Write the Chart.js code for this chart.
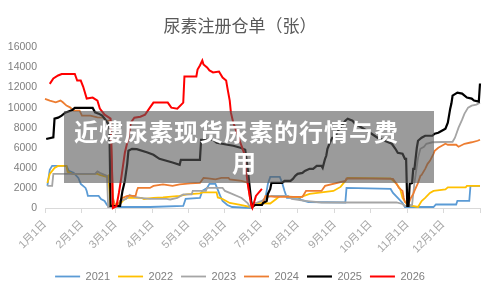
<!DOCTYPE html>
<html>
<head>
<meta charset="utf-8">
<script src="https://cdn.jsdelivr.net/npm/chart.js"></script>
<style>
    html, body { margin: 0; padding: 0; background: #fff; }
    #wrap { position: relative; width: 500px; height: 295px; }
    #banner { position: absolute; left: 64px; top: 111px; width: 370px; height: 72px; background: rgba(88, 88, 88, 0.6); }
    .bt { position: absolute; color: #fff; font-family: 'Noto Sans CJK SC'; font-weight: 700; font-size: 24px; line-height: 31px; letter-spacing: 1px; white-space: nowrap; }
</style>
</head>
<body>
<div id="wrap">
    <canvas id="chart" width="500" height="295"></canvas>
    <div id="banner"></div>
    <div class="bt" style="left:74px; top:115px;">近熡尿素现货尿素的行情与费</div>
    <div class="bt" style="left:232px; top:146px;">用</div>
</div>
<script>
// day of year (0 = 1月1日) and warehouse receipts per year
const years = ['2021', '2022', '2023', '2024', '2025', '2026'];
const monthDays = [0, 31, 59, 90, 120, 151, 181, 212, 243, 273, 304, 334, 365];
const monthLabels = ['1月1日', '2月1日', '3月1日', '4月1日', '5月1日', '6月1日', '7月1日', '8月1日', '9月1日', '10月1日', '11月1日', '12月1日', ''];

const days2021 = [2, 4, 6, 18, 20, 24, 28, 30, 34, 35, 36, 45, 47, 50, 52, 54, 88, 116, 118, 130, 132, 136, 138, 143, 145, 147, 149, 153, 157, 172, 176, 182, 185, 187, 189, 197, 199, 201, 203, 213, 215, 221, 252, 253, 290, 292, 296, 300, 302, 326, 328, 345, 346, 356, 357, 365];
const vals2021 = [2200, 3800, 4200, 4200, 3700, 3500, 3000, 2400, 2000, 1700, 1200, 1200, 900, 700, 300, 100, 100, 200, 900, 1000, 1700, 2000, 2400, 2400, 1800, 1200, 700, 300, 100, 0, 300, 300, 1000, 2400, 3100, 3100, 2500, 1700, 1000, 1000, 800, 600, 550, 2000, 1900, 1500, 1000, 500, 100, 100, 350, 350, 700, 700, 2200, 2200];

const days2022 = [2, 4, 8, 11, 18, 19, 23, 44, 46, 52, 53, 55, 63, 66, 69, 81, 83, 91, 99, 113, 119, 130, 132, 144, 145, 149, 155, 164, 172, 177, 189, 194, 197, 214, 222, 242, 248, 252, 254, 290, 295, 298, 300, 304, 313, 316, 319, 323, 326, 336, 338, 353, 354, 365];
const vals2022 = [2500, 3400, 4000, 4200, 4200, 3600, 3400, 3400, 3300, 3100, 3200, 300, 400, 800, 1000, 1000, 900, 1000, 1050, 1200, 1350, 1450, 1550, 1550, 1050, 900, 500, 300, 100, 500, 450, 900, 1200, 1050, 1400, 1700, 2100, 2700, 3000, 2950, 2400, 1900, 1000, 300, 100, 700, 1000, 1500, 1700, 1850, 2050, 2050, 2200, 2200];

const days2023 = [2, 6, 7, 42, 44, 46, 50, 52, 53, 61, 63, 68, 71, 75, 80, 88, 102, 105, 111, 116, 123, 124, 135, 136, 149, 151, 155, 165, 170, 172, 177, 182, 185, 190, 204, 207, 218, 232, 295, 300, 302, 308, 310, 313, 315, 318, 320, 325, 342, 344, 347, 350, 352, 355, 358, 362, 365];
const vals2023 = [2200, 2200, 3400, 3400, 3650, 3500, 3300, 3200, 100, 100, 700, 900, 1300, 1100, 1000, 900, 900, 850, 1000, 1350, 1350, 1700, 1700, 2000, 2000, 1700, 1500, 1000, 500, 100, 500, 700, 1000, 1200, 1200, 900, 700, 550, 550, 400, 200, 300, 2500, 5000, 5900, 6100, 6400, 6550, 6600, 7000, 8000, 8800, 9400, 10000, 10200, 10300, 10500];

const days2024 = [0, 4, 9, 13, 15, 18, 21, 24, 29, 31, 38, 44, 49, 51, 55, 57, 59, 61, 63, 65, 69, 76, 77, 78, 88, 91, 99, 107, 113, 122, 130, 133, 137, 143, 148, 154, 155, 165, 170, 172, 174, 177, 182, 185, 193, 216, 219, 232, 235, 252, 253, 292, 295, 297, 300, 301, 302, 305, 307, 309, 310, 313, 315, 316, 319, 321, 323, 326, 327, 330, 333, 336, 338, 345, 347, 352, 358, 363, 365];
const vals2024 = [10870, 10700, 10530, 10700, 10530, 10200, 10030, 9700, 9700, 9200, 9200, 9030, 9000, 8700, 8700, 1000, 200, 300, 700, 1000, 1200, 1200, 1700, 2000, 2000, 2200, 2350, 2200, 2350, 2450, 2500, 3000, 2950, 2850, 3000, 3000, 2850, 2700, 2530, 1000, 100, 300, 300, 1200, 1100, 1100, 1700, 1700, 2200, 2700, 2950, 2900, 2400, 2000, 1700, 1000, 600, 400, 1000, 1400, 1700, 2500, 3200, 3300, 3900, 4400, 4700, 5400, 5700, 6000, 6200, 6400, 6300, 6300, 6100, 6400, 6550, 6700, 6800];

const days2025 = [1, 7, 8, 11, 14, 17, 23, 25, 40, 42, 45, 48, 50, 53, 54, 55, 63, 65, 67, 69, 70, 73, 77, 86, 91, 96, 107, 113, 114, 130, 131, 141, 144, 153, 158, 164, 168, 170, 173, 174, 176, 182, 183, 186, 187, 189, 190, 199, 201, 206, 208, 210, 212, 216, 218, 222, 225, 228, 232, 233, 235, 236, 237, 239, 241, 243, 246, 249, 252, 254, 258, 260, 266, 270, 274, 279, 285, 291, 294, 296, 300, 302, 303, 304, 305, 306, 308, 309, 310, 312, 313, 316, 319, 325, 327, 330, 333, 336, 338, 340, 341, 342, 346, 350, 354, 358, 360, 364, 365];
const vals2025 = [6870, 7030, 8900, 9000, 9200, 9500, 9770, 9970, 9970, 9530, 9400, 9200, 8900, 8400, 8400, 200, 200, 1700, 2700, 4400, 5700, 5900, 5870, 5530, 5300, 4900, 4530, 4300, 4800, 4800, 6800, 6800, 6500, 6300, 6200, 6000, 5800, 4000, 700, 100, 300, 300, 500, 700, 1400, 1900, 2500, 2500, 2700, 2700, 2900, 3200, 3400, 3500, 3700, 3900, 3900, 4200, 4200, 4000, 4900, 5200, 5900, 6500, 7000, 7000, 7700, 8200, 8700, 8900, 8700, 8400, 8000, 7700, 7400, 7000, 6700, 6400, 5900, 5500, 5400, 4900, 4900, 200, 200, 2400, 2500, 3900, 3900, 6000, 6700, 7000, 7200, 7200, 7400, 7500, 7700, 7900, 8500, 9900, 10400, 11200, 11500, 11400, 11000, 10900, 10700, 10600, 12400];

const days2026 = [4, 7, 11, 14, 25, 27, 30, 32, 35, 40, 44, 46, 50, 55, 56, 57, 60, 62, 64, 67, 70, 72, 75, 80, 84, 88, 91, 103, 106, 111, 116, 117, 127, 128, 130, 132, 133, 136, 138, 141, 146, 149, 152, 153, 155, 156, 158, 161, 164, 167, 170, 173, 174, 177, 182];
const vals2026 = [12370, 12900, 13200, 13350, 13350, 12700, 12700, 12100, 10900, 11000, 10700, 9900, 9300, 8900, 5000, 0, 200, 1500, 3000, 5500, 7000, 8500, 9000, 9100, 9300, 10000, 10500, 10500, 10000, 9900, 10500, 13100, 13100, 13800, 14200, 14700, 14300, 14000, 13700, 13500, 13600, 13000, 12700, 12000, 10700, 9500, 8500, 7500, 6500, 5500, 2500, 300, 0, 1200, 1900];

const yTicks = [0, 2000, 4000, 6000, 8000, 10000, 12000, 14000, 16000];

(function () {
    'use strict';

    const colors = ['#5b9bd5', '#ffc000', '#a5a5a5', '#ed7d31', '#000000', '#ff0000'];
    const widths = [1.8, 1.8, 1.8, 1.8, 2.2, 2];
    const allDays = [days2021, days2022, days2023, days2024, days2025, days2026];
    const allVals = [vals2021, vals2022, vals2023, vals2024, vals2025, vals2026];
    const font = "'Liberation Sans', 'Noto Sans CJK SC', sans-serif";

    function toPoints(days, vals) {
        return days.map(function (d, i) { return { x: d, y: vals[i] }; });
    }

    const datasets = years.map(function (y, i) {
        return {
            label: y,
            data: toPoints(allDays[i], allVals[i]),
            borderColor: colors[i],
            backgroundColor: colors[i],
            borderWidth: widths[i],
            pointRadius: 0,
            pointStyle: 'line',
            tension: 0,
            clip: false,
            order: years.length - i
        };
    });

    new Chart(document.getElementById('chart'), {
        type: 'line',
        data: { datasets: datasets },
        options: {
            responsive: false,
            animation: false,
            layout: { padding: { left: 0, right: 20, top: 0, bottom: 3 } },
            plugins: {
                tooltip: { enabled: false },
                title: {
                    display: true,
                    text: '尿素注册仓单（张）',
                    color: '#595959',
                    font: { family: "'Noto Sans CJK SC'", size: 17, weight: 'normal' },
                    padding: { top: 15, bottom: 12 }
                },
                legend: {
                    position: 'bottom',
                    maxHeight: 30,
                    labels: {
                        usePointStyle: true,
                        pointStyleWidth: 25,
                        boxHeight: 11,
                        color: '#7f7f7f',
                        padding: 8,
                        font: { family: font, size: 11 },
                        sort: function (a, b) { return a.datasetIndex - b.datasetIndex; }
                    }
                }
            },
            scales: {
                x: {
                    type: 'linear',
                    min: 0,
                    max: 365,
                    afterBuildTicks: function (scale) {
                        scale.ticks = monthDays.map(function (d) { return { value: d }; });
                    },
                    afterFit: function (scale) { scale.height = 55; },
                    ticks: {
                        autoSkip: false,
                        minRotation: 45,
                        maxRotation: 45,
                        padding: 5,
                        color: '#a6a6a6',
                        font: { family: font, size: 11 },
                        callback: function (value, index) { return monthLabels[index]; }
                    },
                    grid: { display: true, drawOnChartArea: false, tickLength: 5, color: '#d9d9d9' },
                    border: { display: true, color: '#d9d9d9' }
                },
                y: {
                    min: 0,
                    max: 16000,
                    afterBuildTicks: function (scale) {
                        scale.ticks = yTicks.map(function (v) { return { value: v }; });
                    },
                    afterFit: function (scale) { scale.width = 45; },
                    ticks: {
                        padding: 8,
                        color: '#7f7f7f',
                        font: { family: font, size: 10.5 },
                        callback: function (value) { return String(value); }
                    },
                    grid: { display: false, drawTicks: false },
                    border: { display: false }
                }
            }
        }
    });
})();
</script>
</body>
</html>
